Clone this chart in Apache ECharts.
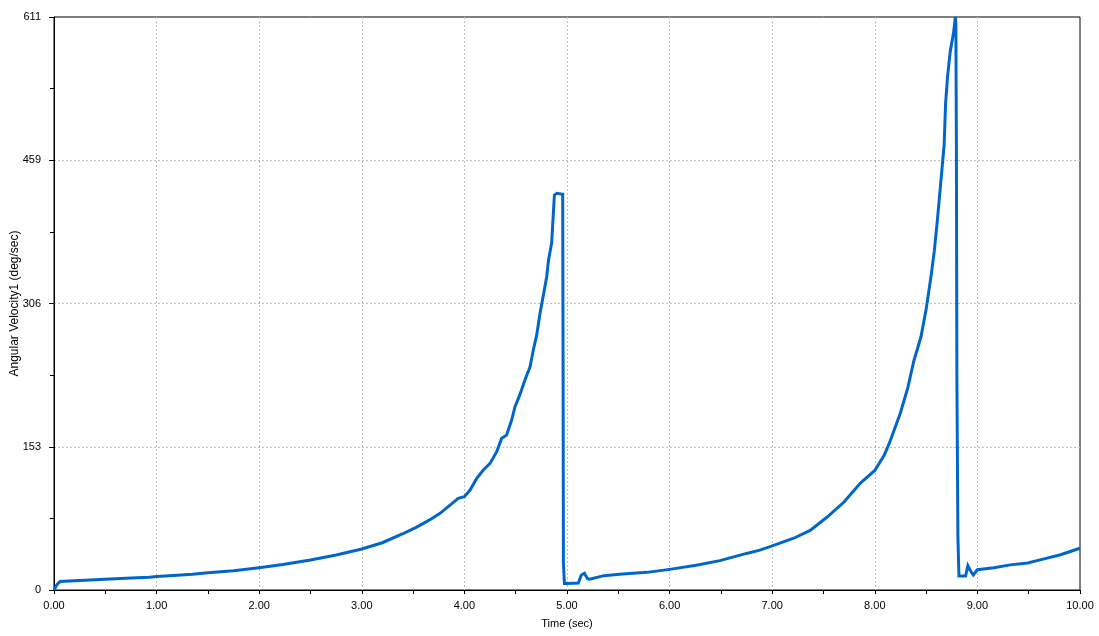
<!DOCTYPE html>
<html>
<head>
<meta charset="utf-8">
<script src="https://cdn.jsdelivr.net/npm/echarts@6/dist/echarts.min.js"></script>
<style>
html,body{margin:0;padding:0;background:#fff;}
#chart{width:1099px;height:636px;}
</style>
</head>
<body>
<div id="chart"></div>
<script>
// Time (sec)
const times = [
  0, 0.03, 0.06, 0.1, 0.3, 0.5, 0.7, 0.93, 1.0, 1.2, 1.35, 1.5, 1.75, 2.0, 2.23, 2.5, 2.75,
  3.0, 3.2, 3.4, 3.53, 3.6, 3.68, 3.762, 3.86, 3.94, 4.0, 4.055, 4.12, 4.185, 4.25, 4.315,
  4.363, 4.41, 4.46, 4.493, 4.54, 4.59, 4.64, 4.672, 4.705, 4.737, 4.77, 4.802, 4.82,
  4.85, 4.867, 4.877, 4.9, 4.958, 4.962, 4.965, 4.975, 5.0, 5.11, 5.14, 5.17, 5.2, 5.22,
  5.36, 5.51, 5.78, 6.0, 6.26, 6.49, 6.75, 6.88, 7.0, 7.21, 7.37, 7.53, 7.70, 7.86, 8.0,
  8.09, 8.14, 8.19, 8.25, 8.32, 8.38, 8.45, 8.50, 8.55, 8.58, 8.61, 8.64, 8.676, 8.69,
  8.71, 8.735, 8.77, 8.785, 8.79, 8.795, 8.80, 8.81, 8.82, 8.885, 8.907, 8.935, 8.96,
  9.0, 9.16, 9.32, 9.49, 9.65, 9.81, 10.0
];
// Angular Velocity1 (deg/sec)
const velocity = [
  0, 6, 9, 9.2, 10.5, 11.5, 12.5, 13.5, 14.4, 15.6, 16.7, 18.3, 20.6, 23.8, 27.2, 32, 37.3,
  43.7, 50.4, 60, 66.8, 71, 76, 81.8, 90.6, 97.7, 99.5, 106.6, 119, 128, 135, 147.5,
  161.7, 165, 181, 195.5, 208, 224, 238, 256, 272, 295, 314.6, 334, 352,
  369.7, 401.7, 421, 423, 422, 227, 29, 7, 7, 7.5, 16, 17.8, 12, 11.5,
  15.3, 16.7, 18.8, 22, 26.3, 31.3, 39, 42.5, 47, 55.2, 63.6, 77.3, 93.8, 114, 127.5,
  143.3, 156, 170.8, 189, 214.9, 244, 270, 299, 336, 361.6, 394.5, 431, 475, 519,
  548.6, 574, 596, 611, 605, 484, 228, 57, 15, 15, 26, 20, 16,
  21.6, 23.7, 26.8, 28.9, 33.2, 37.6, 44.5
];
const yTickLabels = ['0', '153', '306', '459', '611'];
const yMax = 611;
const xMax = 10;

const chart = echarts.init(document.getElementById('chart'), null, {renderer: 'canvas'});
const fontFam = 'Arial, "Liberation Sans", sans-serif';
chart.setOption({
  animation: false,
  backgroundColor: '#ffffff',
  grid: {left: 54, right: 19, top: 17, bottom: 46, containLabel: false, outerBoundsMode: 'none',
    show: true, borderColor: '#000', borderWidth: 1, backgroundColor: 'transparent'},
  xAxis: {
    type: 'value', min: 0, max: xMax, interval: 1,
    name: 'Time (sec)', nameLocation: 'middle', nameGap: 28, nameMoveOverlap: false,
    nameTextStyle: {fontFamily: fontFam, fontSize: 11, color: '#000'},
    axisLine: {lineStyle: {color: '#000', width: 1}},
    axisTick: {show: true, length: 4, lineStyle: {color: '#000'}},
    minorTick: {show: true, splitNumber: 2, length: 4, lineStyle: {color: '#000'}},
    axisLabel: {fontFamily: fontFam, fontSize: 11, color: '#000', margin: 10, formatter: v => v.toFixed(2)},
    splitLine: {show: true, showMinLine: false, showMaxLine: false,
      lineStyle: {color: '#c0c0c0', type: [2, 2], width: 1}}
  },
  yAxis: {
    type: 'value', min: 0, max: yMax, interval: yMax / 4,
    name: 'Angular Velocity1 (deg/sec)', nameLocation: 'middle', nameGap: 33, nameRotate: 90,
    nameMoveOverlap: false,
    nameTextStyle: {fontFamily: fontFam, fontSize: 12, color: '#000'},
    axisLine: {show: true, lineStyle: {color: '#000', width: 1}},
    axisTick: {show: true, length: 5, lineStyle: {color: '#000'}},
    minorTick: {show: true, splitNumber: 2, length: 4, lineStyle: {color: '#000'}},
    axisLabel: {fontFamily: fontFam, fontSize: 11, color: '#000', margin: 13,
      formatter: v => yTickLabels[Math.round(v / (yMax / 4))]},
    splitLine: {show: true, showMinLine: false, showMaxLine: false,
      lineStyle: {color: '#c0c0c0', type: [2, 2], width: 1}}
  },
  series: [{
    type: 'line',
    data: times.map((t, i) => [t, velocity[i]]),
    showSymbol: false,
    lineStyle: {color: '#0066cc', width: 3, join: 'miter'},
    itemStyle: {color: '#0066cc'},
    clip: true
  }]
});
</script>
</body>
</html>
